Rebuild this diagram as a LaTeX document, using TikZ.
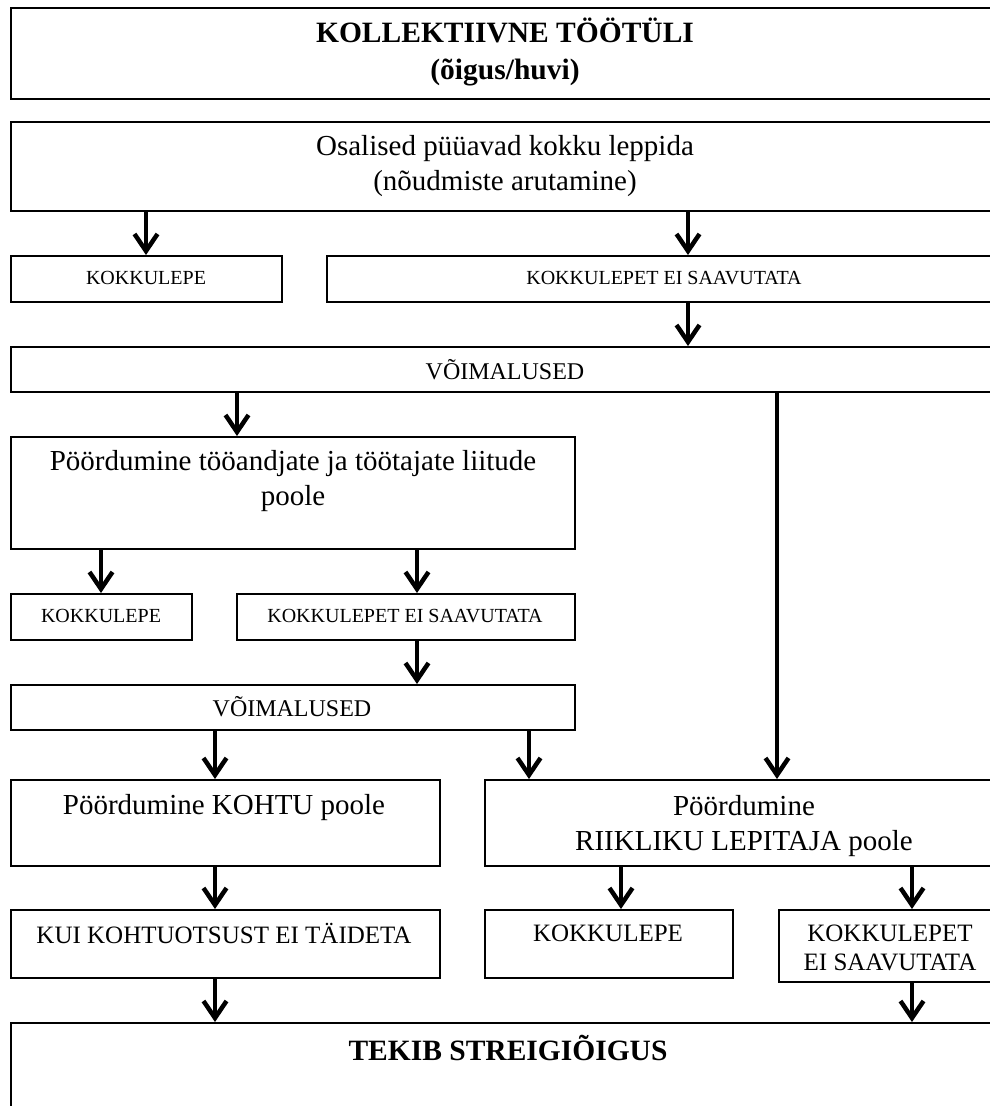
\documentclass[tikz,border=0pt]{standalone}
\usepackage{fontspec}
\setmainfont{Liberation Serif}
\usetikzlibrary{arrows.meta,calc}
\begin{document}
\begin{tikzpicture}[x=1pt,y=-1pt,
  box/.style={draw, line width=1.7pt, rectangle, inner sep=0pt, anchor=north west},
  arr/.style={line width=3.5pt, -{Straight Barb[length=17pt,width=23pt,line width=4.5pt]}},
  lbl/.style={inner sep=0pt, align=center},
  bigb/.style={lbl, font=\fontsize{29.5}{37}\selectfont\bfseries},
  big/.style={lbl, font=\fontsize{29}{35}\selectfont},
  mid/.style={lbl, font=\fontsize{25}{29}\selectfont},
  voim/.style={lbl, font=\fontsize{24}{28}\selectfont},
  small/.style={lbl, font=\fontsize{20}{24}\selectfont}
]
\useasboundingbox (0,0) rectangle (990,1106);
\clip (0,0) rectangle (990,1106);

% boxes
\node[box, minimum width=992pt, minimum height=91pt] (top) at (10,7) {};
\node[box, minimum width=992pt, minimum height=89pt] (osal) at (10,121) {};
\node[box, minimum width=271pt, minimum height=46pt] (kok1) at (10,255) {};
\node[box, minimum width=676pt, minimum height=46pt] (kei1) at (326,255) {};
\node[box, minimum width=992pt, minimum height=45pt] (voim1) at (10,346) {};
\node[box, minimum width=564pt, minimum height=112pt] (poor1) at (10,436) {};
\node[box, minimum width=181pt, minimum height=46pt] (kok2) at (10,593) {};
\node[box, minimum width=338pt, minimum height=46pt] (kei2) at (236,593) {};
\node[box, minimum width=564pt, minimum height=45pt] (voim2) at (10,684) {};
\node[box, minimum width=429pt, minimum height=86pt] (kohtu) at (10,779) {};
\node[box, minimum width=518pt, minimum height=86pt] (riik) at (484,779) {};
\node[box, minimum width=429pt, minimum height=68pt] (kui) at (10,909) {};
\node[box, minimum width=248pt, minimum height=68pt] (kok3) at (484,909) {};
\node[box, minimum width=224pt, minimum height=72pt] (kei3) at (778,909) {};
\node[box, minimum width=992pt, minimum height=120pt] (tekib) at (10,1022) {};

% labels
\node[bigb] (top-t) at (505,52) {KOLLEKTIIVNE TÖÖTÜLI\\(õigus/huvi)};
\node[big] (osal-t) at (505,166) {Osalised püüavad kokku leppida\\(nõudmiste arutamine)};
\node[small] (kok1-t) at (146,278) {KOKKULEPE};
\node[small] (kei1-t) at (664,278) {KOKKULEPET EI SAAVUTATA};
\node[voim] (voim1-t) at (505,370) {VÕIMALUSED};
\node[big] (poor1-t) at (293,481) {Pöördumine tööandjate ja töötajate liitude\\poole};
\node[small] (kok2-t) at (101,616) {KOKKULEPE};
\node[small] (kei2-t) at (405,616) {KOKKULEPET EI SAAVUTATA};
\node[voim] (voim2-t) at (292,707) {VÕIMALUSED};
\node[big] (kohtu-t) at (224,808) {Pöördumine KOHTU poole};
\node[big] (riik-t) at (744,826) {Pöördumine\\RIIKLIKU LEPITAJA poole};
\node[mid] (kui-t) at (224,933) {KUI KOHTUOTSUST EI TÄIDETA};
\node[mid] (kok3-t) at (608,933) {KOKKULEPE};
\node[mid] (kei3-t) at (890,948) {KOKKULEPET\\EI SAAVUTATA};
\node[bigb] (tekib-t) at (508,1048) {TEKIB STREIGIÕIGUS};

% arrow columns
\coordinate (c101) at (101,0);
\coordinate (c146) at (146,0);
\coordinate (c215) at (215,0);
\coordinate (c237) at (237,0);
\coordinate (c417) at (417,0);
\coordinate (c529) at (529,0);
\coordinate (c621) at (621,0);
\coordinate (c688) at (688,0);
\coordinate (c777) at (777,0);
\coordinate (c912) at (912,0);

% connectors
\draw[arr] (osal.south -| c146) -- (kok1.north -| c146);
\draw[arr] (osal.south -| c688) -- (kei1.north -| c688);
\draw[arr] (kei1.south -| c688) -- (voim1.north -| c688);
\draw[arr] (voim1.south -| c237) -- (poor1.north -| c237);
\draw[arr] (voim1.south -| c777) -- (riik.north -| c777);
\draw[arr] (poor1.south -| c101) -- (kok2.north -| c101);
\draw[arr] (poor1.south -| c417) -- (kei2.north -| c417);
\draw[arr] (kei2.south -| c417) -- (voim2.north -| c417);
\draw[arr] (voim2.south -| c215) -- (kohtu.north -| c215);
\draw[arr] (voim2.south -| c529) -- (riik.north -| c529);
\draw[arr] (kohtu.south -| c215) -- (kui.north -| c215);
\draw[arr] (riik.south -| c621) -- (kok3.north -| c621);
\draw[arr] (riik.south -| c912) -- (kei3.north -| c912);
\draw[arr] (kui.south -| c215) -- (tekib.north -| c215);
\draw[arr] (kei3.south -| c912) -- (tekib.north -| c912);
\end{tikzpicture}
\end{document}
